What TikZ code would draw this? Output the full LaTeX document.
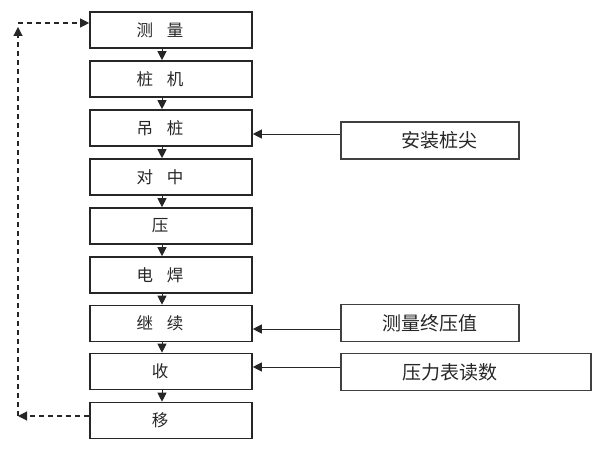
\documentclass[tikz,border=0pt]{standalone}
\usepackage{fontspec}
\setmainfont{Noto Sans CJK SC}
\usetikzlibrary{arrows.meta}
\begin{document}
\begin{tikzpicture}[x=1pt,y=1pt,
  mainbox/.style={draw=black!85, line width=1.6pt, minimum width=162pt, minimum height=36pt,
    inner sep=0pt, font=\fontsize{16.5}{18}\selectfont, text=black!85,
    execute at begin node={\hspace*{-11pt}}, execute at end node={\hspace*{11pt}}},
  sidebox/.style={draw=black!75, line width=1.1pt, minimum height=37pt,
    inner sep=0pt, font=\fontsize{19}{21}\selectfont, text=black!85},
  arr/.style={line width=0.9pt, draw=black!85, -{Triangle[width=9pt,length=9pt]}},
  darr/.style={line width=1.1pt, draw=black!85, dash pattern=on 5pt off 4pt, -{Triangle[width=9pt,length=9pt]}}
]
\useasboundingbox (0,0) rectangle (600,450);
\node[mainbox] (n1) at (171,420) {测\hspace{14pt}量};
\node[mainbox] (n2) at (171,371) {桩\hspace{14pt}机};
\node[mainbox] (n3) at (171,322) {吊\hspace{14pt}桩};
\node[mainbox] (n4) at (171,273) {对\hspace{14pt}中};
\node[mainbox] (n5) at (171,224) {压};
\node[mainbox] (n6) at (171,175) {电\hspace{14pt}焊};
\node[mainbox] (n7) at (171,126.5) {继\hspace{14pt}续};
\node[mainbox] (n8) at (171,78.5) {收};
\node[mainbox] (n9) at (171,29.5) {移};

\node[sidebox, minimum width=178pt] (r1) at (430,309.5) {\hspace*{18pt}安装桩尖};
\node[sidebox, minimum width=178pt] (r2) at (430,127) {测量终压值};
\node[sidebox, minimum width=250pt] (r3) at (466,78) {压力表读数\hspace*{32pt}};

\foreach \a/\b in {n1/n2,n2/n3,n3/n4,n4/n5,n5/n6,n6/n7,n7/n8,n8/n9}
  \draw[arr] ([xshift=-9pt]\a.south) -- ([xshift=-9pt]\b.north);

\draw[arr] (r1.west |- 0,316) -- (n3.east |- 0,316);
\draw[arr] (r2.west |- 0,121) -- (n7.east |- 0,121);
\draw[arr] (r3.west |- 0,83) -- (n8.east |- 0,83);

\coordinate (cl) at (18,34);
\coordinate (cu) at (18,423);
\coordinate (ct) at (18,427);
\draw[darr] (n9.west |- cl) -- (cl);
\draw[darr] (cl) -- (cu);
\draw[darr] (ct) -- (n1.west |- ct);
\end{tikzpicture}
\end{document}
